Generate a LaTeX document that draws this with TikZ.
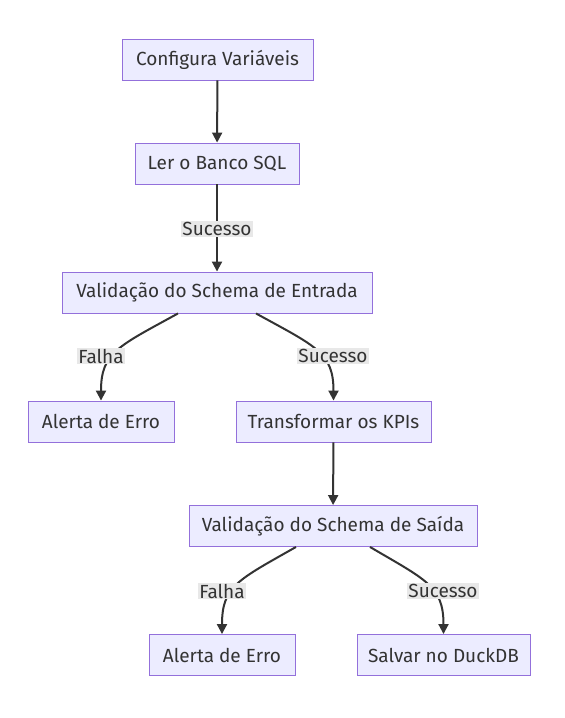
\documentclass[tikz,border=0pt]{standalone}
\usepackage{fontspec}
\setmainfont{Fira Sans}
\usepackage{xcolor}
\usetikzlibrary{arrows.meta}

\definecolor{boxfill}{HTML}{ECECFF}
\definecolor{boxline}{HTML}{9370DB}
\definecolor{inkgray}{HTML}{333333}
\definecolor{labelgray}{HTML}{E8E8E8}

\tikzset{
    stepbox/.style={draw=boxline, fill=boxfill, line width=0.9pt, minimum height=41pt,
        inner xsep=9pt, text=inkgray, font=\fontsize{19}{22}\selectfont},
    flow/.style={->, line width=2pt, draw=inkgray},
    edgelabel/.style={fill=labelgray, text=inkgray, inner xsep=1pt, inner ysep=1pt,
        font=\fontsize{19}{22}\selectfont}
}

\begin{document}
\begin{tikzpicture}[x=1pt, y=-1pt, >={Triangle[length=10pt, width=10pt]}]
        \useasboundingbox[fill=white] (0,0) rectangle (565,718);

        % Nodes
        \node[stepbox, minimum width=191pt] (cfg) at (217.5,59.5) {Configura Variáveis};
        \node[stepbox, minimum width=164pt] (ler) at (217,163.5) {Ler o Banco SQL};
        \node[stepbox, minimum width=310pt] (vin) at (217,292.5) {Validação do Schema de Entrada};
        \node[stepbox, minimum width=146pt] (erro1) at (101,421.5) {Alerta de Erro};
        \node[stepbox, minimum width=195pt] (kpi) at (333.5,421.5) {Transformar os KPIs};
        \node[stepbox, minimum width=288pt] (vout) at (333,526) {Validação do Schema de Saída};
        \node[stepbox, minimum width=146pt] (erro2) at (222,655) {Alerta de Erro};
        \node[stepbox, minimum width=173pt] (duck) at (443.5,655) {Salvar no DuckDB};

        % Straight connectors
        \draw[flow] (cfg) -- (ler);
        \draw[flow] (ler) -- (vin);
        \draw[flow] (kpi) -- (vout);

        % Curved connectors
        \draw[flow] ([xshift=-39pt]vin.south) .. controls +(-60,33) and +(0,-48) .. (erro1.north);
        \draw[flow] ([xshift=39pt]vin.south) .. controls +(60,33) and +(0,-48) .. (kpi.north);
        \draw[flow] ([xshift=-37pt]vout.south) .. controls +(-58,33) and +(0,-48) .. (erro2.north);
        \draw[flow] ([xshift=37pt]vout.south) .. controls +(56,33) and +(0,-48) .. (duck.north);

        % Edge labels
        \node[edgelabel] (lbl1) at (217,229) {Sucesso};
        \node[edgelabel] (lbl2) at (101,356) {Falha};
        \node[edgelabel] (lbl3) at (333,356) {Sucesso};
        \node[edgelabel] (lbl4) at (222,591) {Falha};
        \node[edgelabel] (lbl5) at (443,591) {Sucesso};

\end{tikzpicture}
\end{document}
